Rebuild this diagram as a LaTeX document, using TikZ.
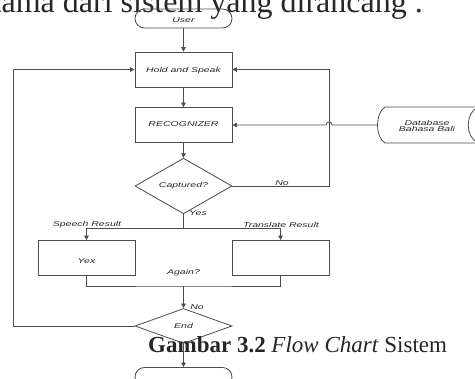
\documentclass[tikz,border=0pt]{standalone}
\usepackage{graphicx}
\usepackage{fontspec}
\setmainfont{Liberation Serif}
\newfontfamily\diagfont{Liberation Sans}
\usetikzlibrary{shapes.geometric,arrows.meta}
\definecolor{edgegray}{gray}{0.3}
\newcommand{\wtxt}[1]{\scalebox{1.5}[1]{\diagfont\itshape\fontsize{7}{5}\selectfont #1}}
\newcommand{\lowtxt}[2]{\raisebox{-#1}[0pt][0pt]{\wtxt{#2}}}

\begin{document}
\begin{tikzpicture}[x=1pt,y=1pt]
\tikzstyle{every node}+=[inner sep=0pt,text=black!85]
\tikzset{
  term/.style={draw=edgegray,line width=0.8pt,rounded corners=9.5pt,minimum width=97pt,minimum height=19pt},
  proc/.style={draw=edgegray,line width=0.8pt,minimum width=97pt,minimum height=35pt},
  decide/.style={draw=edgegray,line width=0.8pt,diamond,minimum width=97pt,minimum height=35pt},
  wire/.style={draw=edgegray,line width=0.8pt},
  flow/.style={wire,-{Triangle[length=4.5pt,width=4.5pt]}}
}
\useasboundingbox (0,0) rectangle (475,-379);
% page text round the chart
\node[anchor=base east,font=\fontsize{32}{32}\selectfont] (para) at (423,-13) {tama dari sistem yang dirancang .};
% chart boxes
\node[term] (user) at (183.5,-18.5) {\lowtxt{4pt}{User}};
\node[proc] (hold) at (183.5,-69.5) {\lowtxt{3pt}{Hold and Speak}};
\node[proc] (rec) at (183.5,-125) {\lowtxt{2pt}{RECOGNIZER}};
\node[decide] (capt) at (183.5,-186) {\wtxt{Captured?}};
\node[proc] (speech) at (86.5,-258) {\lowtxt{6pt}{Yex}};
\node[proc] (trans) at (280.5,-258) {};
\node[decide] (end) at (183.5,-326) {\wtxt{End}};
\node[term] (stop) at (183.5,-377) {};
% database store
\draw[wire] (385,-107) -- (478,-107) .. controls (465,-113) and (465,-137) .. (478,-143)
  -- (385,-143) .. controls (375,-137) and (375,-113) .. (385,-107);
\node (db) at (427,-126) {\wtxt{\shortstack{Database\\[-2pt]Bahasa Bali}}};
\coordinate (dbin) at (377.5,-125);
\coordinate (hop) at (332,-125);
\coordinate (noR) at (329,-186);
\coordinate (backL) at (13,-326);
\coordinate (split) at (183.5,-228);
\coordinate (merge) at (183.5,-286);
% connectors
\draw[flow] (user) -- (hold);
\draw[flow] (hold) -- (rec);
\draw[flow] (rec) -- (capt);
\draw[flow] (capt.east) -- (noR) |- (hold.east);
\draw[flow] (dbin) -- (hop) arc[start angle=0,end angle=180,radius=3] -- (rec.east);
\draw[wire] (capt) -- (split);
\draw[wire] (split -| speech) -- (split -| trans);
\draw[flow] (split -| speech) -- (speech);
\draw[flow] (split -| trans) -- (trans);
\draw[wire] (speech.south) |- (merge) -| (trans.south);
\draw[flow] (merge) -- (end);
\draw[flow] (end.west) -- (backL) |- (hold.west);
\draw[flow] (end) -- (stop);
% connector labels
\node (no1) at (282,-183) {\wtxt{No}};
\node (yes1) at (198,-213) {\wtxt{Yes}};
\node (sres) at (87,-225) {\wtxt{Speech Result}};
\node (tres) at (281,-225) {\wtxt{Translate Result}};
\node (again) at (183.5,-273) {\wtxt{Again?}};
\node (no2) at (197,-307) {\wtxt{No}};
% caption
\node[anchor=base west,font=\fontsize{23}{23}\selectfont] (cap) at (148,-353) {\textbf{Gambar 3.2} \textit{Flow Chart} Sistem};
\end{tikzpicture}
\end{document}
